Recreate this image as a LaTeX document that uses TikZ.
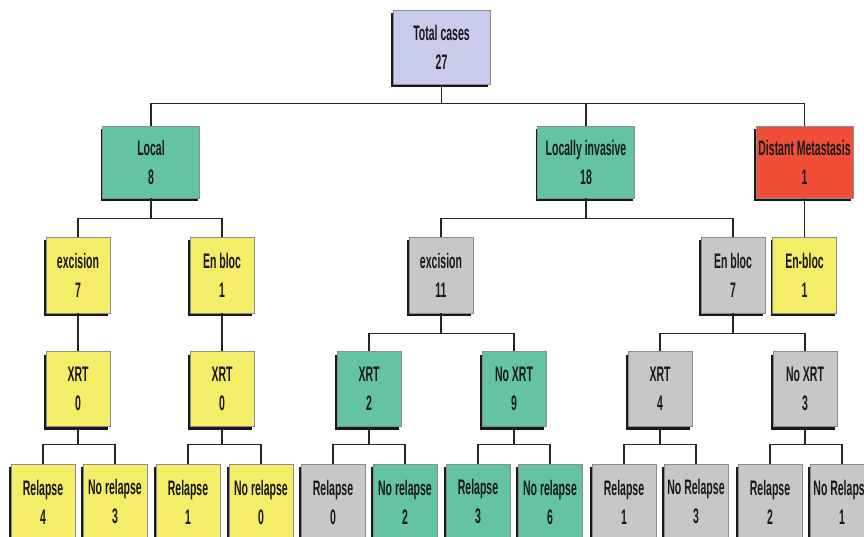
\documentclass[tikz,border=0pt]{standalone}
\usepackage{fontspec}
\setmainfont{Liberation Sans}[FakeStretch=0.5]
\usetikzlibrary{shadows}
\definecolor{lav}{RGB}{201,203,234}
\definecolor{teal1}{RGB}{100,195,165}
\definecolor{red1}{RGB}{240,78,55}
\definecolor{yel}{RGB}{243,237,104}
\definecolor{gry}{RGB}{198,200,198}
\tikzset{
  box/.style={draw=black!45, line width=0.6pt, align=center, inner sep=0pt,
    font=\fontsize{21}{29}\selectfont\bfseries, text=black!90,
    drop shadow={shadow xshift=-1.8pt, shadow yshift=-3pt, fill=black!90, opacity=1}},
  big/.style={box, minimum width=97pt, minimum height=74pt},
  small/.style={box, minimum width=64pt, minimum height=75pt},
  conn/.style={draw=black!85, line width=1.2pt},
}
\newcommand\branch[3]{\draw[conn] (#1.south) -- ++(0,#3) -| (#2.north);}
\begin{document}
\begin{tikzpicture}[x=1pt,y=-1pt]
\useasboundingbox (0,0) rectangle (864,537);
\clip (0,0) rectangle (864,537);
% level 1
\node[big, fill=lav] (total) at (441.5,47.5) {Total cases\\27};
% level 2
\node[big, fill=teal1, minimum height=72pt] (local) at (151,162) {Local\\8};
\node[big, fill=teal1, minimum height=72pt] (inv) at (586,162) {Locally invasive\\18};
\node[big, fill=red1, minimum height=72pt] (dist) at (804.5,162) {Distant Metastasis\\1};
% level 3
\node[small, fill=yel, minimum height=76pt] (exA) at (78,275) {excision\\7};
\node[small, fill=yel, minimum height=76pt] (ebA) at (222,275) {En bloc\\1};
\node[small, fill=gry, minimum height=76pt] (exB) at (441,275) {excision\\11};
\node[small, fill=gry, minimum height=76pt] (ebB) at (733,275) {En bloc\\7};
\node[small, fill=yel, minimum height=76pt] (ebC) at (804.5,275) {En-bloc\\1};
% level 4
\node[small, fill=yel] (xA) at (78,389) {XRT\\0};
\node[small, fill=yel] (xB) at (222,389) {XRT\\0};
\node[small, fill=teal1] (xC) at (369,389) {XRT\\2};
\node[small, fill=teal1] (xD) at (514,389) {No XRT\\9};
\node[small, fill=gry] (xE) at (660,389) {XRT\\4};
\node[small, fill=gry] (xF) at (805,389) {No XRT\\3};
% level 5
\node[small, fill=yel, minimum height=76pt] (r1) at (43,502) {Relapse\\4};
\node[small, fill=yel, minimum height=76pt] (r2) at (115,502) {No relapse\\3};
\node[small, fill=yel, minimum height=76pt] (r3) at (188,502) {Relapse\\1};
\node[small, fill=yel, minimum height=76pt] (r4) at (261,502) {No relapse\\0};
\node[small, fill=gry, minimum height=76pt] (r5) at (333,502) {Relapse\\0};
\node[small, fill=teal1, minimum height=76pt] (r6) at (405,502) {No relapse\\2};
\node[small, fill=teal1, minimum height=76pt] (r7) at (478,502) {Relapse\\3};
\node[small, fill=teal1, minimum height=76pt] (r8) at (550,502) {No relapse\\6};
\node[small, fill=gry, minimum height=76pt] (r9) at (624,502) {Relapse\\1};
\node[small, fill=gry, minimum height=76pt] (r10) at (696,502) {No Relapse\\3};
\node[small, fill=gry, minimum height=76pt] (r11) at (770,502) {Relapse\\2};
\node[small, fill=gry, minimum height=76pt] (r12) at (842,502) {No Relapse\\1};
% connectors
\branch{total}{local}{18.5}
\branch{total}{inv}{18.5}
\branch{total}{dist}{18.5}
\branch{local}{exA}{20}
\branch{local}{ebA}{20}
\branch{inv}{exB}{20}
\branch{inv}{ebB}{20}
\draw[conn] (dist.south) -- (ebC.north);
\draw[conn] (exA.south) -- (xA.north);
\draw[conn] (ebA.south) -- (xB.north);
\branch{exB}{xC}{20}
\branch{exB}{xD}{20}
\branch{ebB}{xE}{20}
\branch{ebB}{xF}{20}
\branch{xA}{r1}{17.5}
\branch{xA}{r2}{17.5}
\branch{xB}{r3}{17.5}
\branch{xB}{r4}{17.5}
\branch{xC}{r5}{17.5}
\branch{xC}{r6}{17.5}
\branch{xD}{r7}{17.5}
\branch{xD}{r8}{17.5}
\branch{xE}{r9}{17.5}
\branch{xE}{r10}{17.5}
\branch{xF}{r11}{17.5}
\branch{xF}{r12}{17.5}
\end{tikzpicture}
\end{document}
